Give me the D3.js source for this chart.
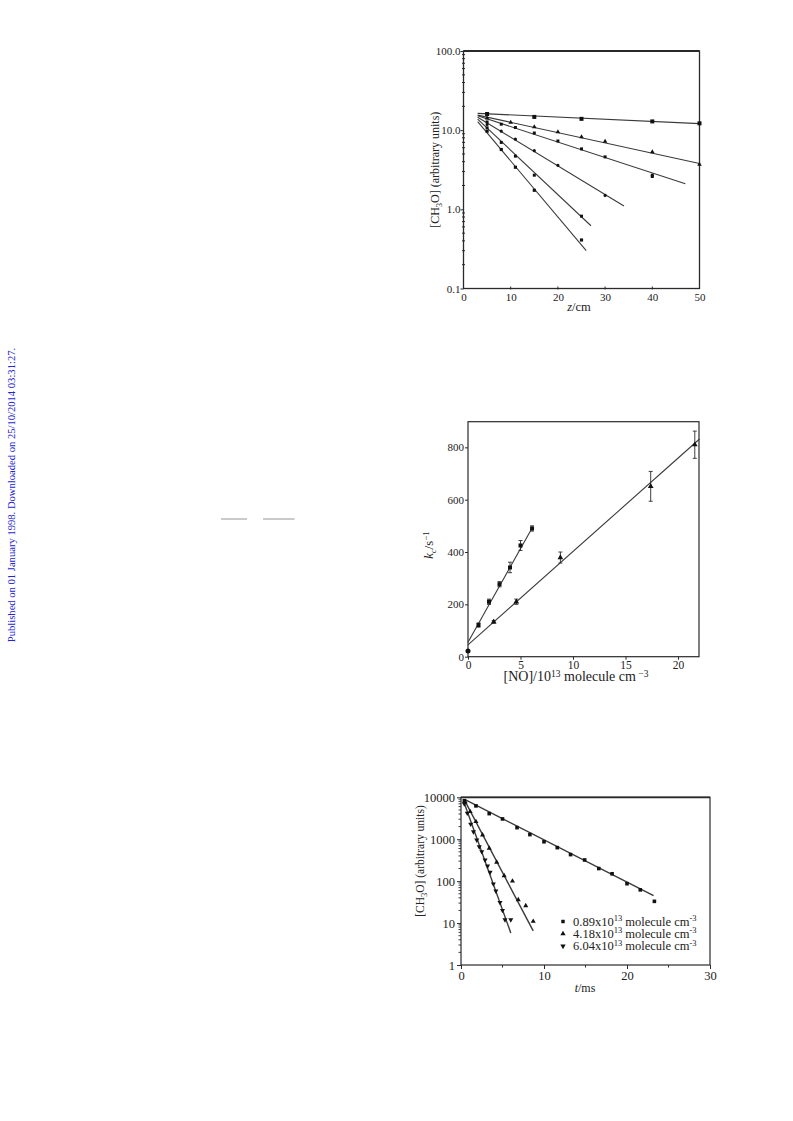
<!DOCTYPE html>
<html><head><meta charset="utf-8">
<script src="https://cdn.jsdelivr.net/npm/d3@7"></script>
<style>
body{margin:0;background:#fff;}
svg{display:block;}
text{font-family:"Liberation Serif","DejaVu Serif",serif;fill:#222;}
</style></head>
<body><svg id="s" width="793" height="1121"></svg>
<script>
// ---------- Chart 1 data: [CH3O] vs z ----------
const c1XTicks = [0,10,20,30,40,50];
const c1YTicks = [0.1,1,10,100];
const c1YLabels = ["0.1","1.0","10.0","100.0"];
const c1A_z = [5,15,25,40,50];           const c1A_v = [16,14.7,13.9,12.9,12.2];
const c1B_z = [5,10,15,20,25,30,40,50];  const c1B_v = [14.2,12.5,11.0,9.5,8.2,7.2,5.3,3.7];
const c1C_z = [5,8,11,15,20,25,30,40,40];const c1C_v = [12.7,11.9,10.8,9.2,7.3,5.8,4.6,2.7,2.6];
const c1D_z = [5,8,11,15,20,30];         const c1D_v = [11.8,9.7,7.7,5.5,3.6,1.5];
const c1E_z = [5,8,11,15,25];            const c1E_v = [10.7,7.0,4.7,2.7,0.82];
const c1F_z = [5,8,11,15,25];            const c1F_v = [9.7,5.7,3.4,1.74,0.41];
// fitted lines: [z0, v0, z1, v1]
const c1FitA = [3,16.3,50,12.1];
const c1FitB = [3,15.5,50,3.8];
const c1FitC = [3,15.2,47,2.1];
const c1FitD = [3,14.6,34,1.1];
const c1FitE = [3,13.8,27,0.62];
const c1FitF = [3,12.8,26,0.30];

// ---------- Chart 2 data: k_c vs [NO] ----------
const c2XTicks = [0,5,10,15,20];
const c2YTicks = [0,200,400,600,800];
const c2Zero_x = [0];  const c2Zero_y = [22];
const c2Sq_x = [1,2,3,4,5,6.1];           const c2Sq_y = [121,210,277,341,425,490]; const c2Sq_e = [8,10,10,20,19,10];
const c2Tri_x = [2.45,4.6,8.8,17.4,21.6]; const c2Tri_y = [133,210,379,651,810];    const c2Tri_e = [5,10,21,57,52];
const c2Fit1 = [0,55,6.15,495];
const c2Fit2 = [0,45,22.05,832];

// ---------- Chart 3 data: [CH3O] vs t ----------
const c3XTicks = [0,10,20,30];
const c3YTicks = [1,10,100,1000,10000];
const c3S1_t = [0.4,1.8,3.4,5.0,6.75,8.3,10.0,11.6,13.2,14.9,16.6,18.2,20.0,21.6,23.3];
const c3S1_v = [8300,6240,4080,3050,1890,1290,870,630,430,320,200,150,87,62,33];
const c3S2_t = [0.5,1.1,1.8,2.6,3.4,4.3,5.2,6.2,6.9,7.8,8.7];
const c3S2_v = [7800,4560,2640,1260,610,283,135,100,36,26,11];
const c3S3_t = [0.4,0.76,1.17,1.5,1.9,2.2,2.5,2.9,3.2,3.5,3.9,4.2,4.7,5.0,5.3,6.0];
const c3S3_v = [7000,4200,2290,1510,960,660,505,320,230,163,86,58,31,20,12,12];
const c3Fit1 = [0.5,8800,23.2,45];
const c3Fit2 = [0.5,8000,8.7,6.5];
const c3Fit3 = [0.4,7200,6.0,5.8];
const c3Legend = ["0.89x10", "4.18x10", "6.04x10"];

const svg = d3.select("#s");
const ink = "#2a2a2a";

function symbolPath(type, size){ return d3.symbol().type(type).size(size)(); }
const triDown = { draw(ctx, size){ const s=Math.sqrt(size/ (Math.sqrt(3)/4)); const h=s*Math.sqrt(3)/2;
  ctx.moveTo(0, h*2/3); ctx.lineTo(-s/2, -h/3); ctx.lineTo(s/2, -h/3); ctx.closePath(); } };
const triUp = { draw(ctx, size){ const s=Math.sqrt(size/ (Math.sqrt(3)/4)); const h=s*Math.sqrt(3)/2;
  ctx.moveTo(0, -h*2/3); ctx.lineTo(-s/2, h/3); ctx.lineTo(s/2, h/3); ctx.closePath(); } };

function frame(g, x0,y0,x1,y1, w){
  g.append("rect").attr("x",x0).attr("y",y0).attr("width",x1-x0).attr("height",y1-y0)
   .attr("fill","none").attr("stroke",ink).attr("stroke-width",w||1.2);
}
function drawFit(g, x, y, f, w){
  g.append("line").attr("x1",x(f[0])).attr("y1",y(f[1])).attr("x2",x(f[2])).attr("y2",y(f[3]))
   .attr("stroke","#3a3a3a").attr("stroke-width",w||1.1);
}
function drawPts(g, x, y, xs, vs, type, size){
  g.selectAll(null).data(xs.map((d,i)=>[d,vs[i]])).enter().append("path")
   .attr("d", symbolPath(type,size)).attr("transform",d=>`translate(${x(d[0])},${y(d[1])})`).attr("fill","#111");
}

// ================= Chart 1 =================
{
  const L=463.5, T=51, R=699.5, B=288.5;
  const x = d3.scaleLinear().domain([0,50]).range([L,R]);
  const y = d3.scaleLog().domain([0.1,100]).range([B,T]);
  const g = svg.append("g");
  frame(g,L,T,R,B,1.3);
  g.append("line").attr("x1",L).attr("x2",R).attr("y1",T).attr("y2",T).attr("stroke",ink).attr("stroke-width",1.8);
  const ya = d3.axisLeft(y).tickValues(c1YTicks).tickSize(3).tickFormat((d,i)=>c1YLabels[i]);
  const yg = g.append("g").attr("transform",`translate(${L},0)`).call(ya);
  yg.select(".domain").remove();
  yg.selectAll("text").style("font-size","11px").attr("x",-3);
  yg.selectAll("line").attr("stroke",ink);
  const minor = [];
  [0.1,1,10].forEach(d=>{ for(let k=2;k<=9;k++) minor.push(d*k); });
  g.selectAll(null).data(minor).enter().append("line")
   .attr("x1",L-1.5).attr("x2",L+1.5).attr("y1",d=>y(d)).attr("y2",d=>y(d)).attr("stroke",ink).attr("stroke-width",1);
  const xa = d3.axisBottom(x).tickValues(c1XTicks).tickSize(0).tickPadding(5);
  const xg = g.append("g").attr("transform",`translate(0,${B})`).call(xa);
  xg.select(".domain").remove();
  xg.selectAll("text").style("font-size","11px");
  g.selectAll(null).data(c1XTicks.slice(1,-1)).enter().append("line")
   .attr("x1",d=>x(d)).attr("x2",d=>x(d)).attr("y1",B-2).attr("y2",B+1).attr("stroke",ink);
  const yt = g.append("text").attr("transform",`translate(439,${(T+B)/2}) rotate(-90)`).attr("text-anchor","middle").style("font-size","12px");
  yt.append("tspan").text("[CH");
  yt.append("tspan").attr("dy",2.5).style("font-size","8.5px").text("3");
  yt.append("tspan").attr("dy",-2.5).text("O] (arbitrary units)");
  const xt = g.append("text").attr("x",579).attr("y",311).attr("text-anchor","middle").style("font-size","12.5px");
  xt.append("tspan").style("font-style","italic").text("z");
  xt.append("tspan").text("/cm");
  [c1FitA,c1FitB,c1FitC,c1FitD,c1FitE,c1FitF].forEach(f=>drawFit(g,x,y,f,1.1));
  drawPts(g,x,y,c1A_z,c1A_v,d3.symbolSquare,16);
  drawPts(g,x,y,c1B_z,c1B_v,triUp,9);
  drawPts(g,x,y,c1C_z,c1C_v,d3.symbolSquare,9);
  drawPts(g,x,y,c1D_z,c1D_v,d3.symbolCircle,8);
  drawPts(g,x,y,c1E_z,c1E_v,d3.symbolSquare,9);
  drawPts(g,x,y,c1F_z,c1F_v,d3.symbolSquare,10);
}

// ================= Chart 2 =================
{
  const L=468, T=421.7, R=699, B=656.7;
  const x = d3.scaleLinear().domain([0,22]).range([L,R]);
  const y = d3.scaleLinear().domain([0,898]).range([B,T]);
  const g = svg.append("g");
  frame(g,L,T,R,B,1.2);
  const yg = g.append("g").attr("transform",`translate(${L},0)`).call(d3.axisLeft(y).tickValues(c2YTicks).tickSize(3).tickPadding(1));
  yg.select(".domain").remove();
  yg.selectAll("text").style("font-size","11px");
  yg.selectAll("line").attr("stroke",ink);
  const xg = g.append("g").attr("transform",`translate(0,${B})`).call(d3.axisBottom(x).tickValues(c2XTicks).tickSize(3).tickPadding(1));
  xg.select(".domain").remove();
  xg.selectAll("text").style("font-size","11.5px");
  xg.selectAll("line").attr("stroke",ink);
  const yt = g.append("text").attr("transform",`translate(433,545) rotate(-90)`).attr("text-anchor","middle").style("font-size","12.5px");
  yt.append("tspan").style("font-style","italic").text("k");
  yt.append("tspan").attr("dy",2.5).style("font-size","9px").style("font-style","italic").text("c");
  yt.append("tspan").attr("dy",-2.5).text("/s");
  yt.append("tspan").attr("dy",-4.5).style("font-size","9px").text("−1");
  const xt = g.append("text").attr("x",576).attr("y",681).attr("text-anchor","middle").style("font-size","14px");
  xt.append("tspan").text("[NO]/10");
  xt.append("tspan").attr("dy",-4.5).style("font-size","9.5px").text("13");
  xt.append("tspan").attr("dy",4.5).text(" molecule cm");
  xt.append("tspan").attr("dy",-4.5).style("font-size","9.5px").text(" −3");
  drawFit(g,x,y,c2Fit1,1.1);
  drawFit(g,x,y,c2Fit2,1.1);
  function err(xs,ys,es){
    xs.forEach((d,i)=>{
      const cx=x(d), y0=y(ys[i]-es[i]), y1=y(ys[i]+es[i]);
      g.append("line").attr("x1",cx).attr("x2",cx).attr("y1",y0).attr("y2",y1).attr("stroke",ink).attr("stroke-width",0.9);
      [y0,y1].forEach(yy=>g.append("line").attr("x1",cx-2).attr("x2",cx+2).attr("y1",yy).attr("y2",yy).attr("stroke",ink).attr("stroke-width",0.9));
    });
  }
  err(c2Sq_x,c2Sq_y,c2Sq_e);
  err(c2Tri_x,c2Tri_y,c2Tri_e);
  drawPts(g,x,y,c2Sq_x,c2Sq_y,d3.symbolSquare,16);
  drawPts(g,x,y,c2Tri_x,c2Tri_y,triUp,14);
  drawPts(g,x,y,c2Zero_x,c2Zero_y,d3.symbolCircle,20);
}

// ================= Chart 3 =================
{
  const L=461, T=797.3, R=710, B=965;
  const x = d3.scaleLinear().domain([0,30]).range([L,R]);
  const y = d3.scaleLog().domain([1,10000]).range([B,T]);
  const g = svg.append("g");
  frame(g,L,T,R,B,1.2);
  g.append("line").attr("x1",L).attr("x2",R).attr("y1",T).attr("y2",T).attr("stroke",ink).attr("stroke-width",1.8);
  const yg = g.append("g").attr("transform",`translate(${L},0)`).call(d3.axisLeft(y).tickValues(c3YTicks).tickFormat(d3.format("d")).tickSize(4).tickPadding(2));
  yg.select(".domain").remove();
  yg.selectAll("text").style("font-size","12.5px");
  yg.selectAll("line").attr("stroke",ink);
  const minor=[];
  [1,10,100,1000].forEach(d=>{ for(let k=2;k<=9;k++) minor.push(d*k); });
  g.selectAll(null).data(minor).enter().append("line")
   .attr("x1",L-2.5).attr("x2",L).attr("y1",d=>y(d)).attr("y2",d=>y(d)).attr("stroke",ink).attr("stroke-width",0.9);
  const xg = g.append("g").attr("transform",`translate(0,${B})`).call(d3.axisBottom(x).tickValues(c3XTicks).tickSize(4).tickPadding(2));
  xg.select(".domain").remove();
  xg.selectAll("text").style("font-size","12.5px");
  xg.selectAll("line").attr("stroke",ink);
  g.selectAll(null).data([5,15,25]).enter().append("line")
   .attr("x1",d=>x(d)).attr("x2",d=>x(d)).attr("y1",B).attr("y2",B+2.5).attr("stroke",ink);
  const yt = g.append("text").attr("transform",`translate(424,861) rotate(-90)`).attr("text-anchor","middle").style("font-size","11.5px");
  yt.append("tspan").text("[CH");
  yt.append("tspan").attr("dy",2.5).style("font-size","8.5px").text("3");
  yt.append("tspan").attr("dy",-2.5).text("O] (arbitrary units)");
  const xt = g.append("text").attr("x",585).attr("y",992).attr("text-anchor","middle").style("font-size","12px");
  xt.append("tspan").style("font-style","italic").text("t");
  xt.append("tspan").text("/ms");
  drawFit(g,x,y,c3Fit1,1.4);
  drawFit(g,x,y,c3Fit2,1.4);
  drawFit(g,x,y,c3Fit3,1.4);
  drawPts(g,x,y,c3S1_t,c3S1_v,d3.symbolSquare,13);
  drawPts(g,x,y,c3S2_t,c3S2_v,triUp,11);
  drawPts(g,x,y,c3S3_t,c3S3_v,triDown,11);
  const types=[d3.symbolSquare,triUp,triDown];
  c3Legend.forEach((lab,i)=>{
    const yy = 921.5 + i*12.3;
    g.append("path").attr("d",symbolPath(types[i],12)).attr("transform",`translate(563,${yy})`).attr("fill","#111");
    const t = g.append("text").attr("x",573).attr("y",yy+4).style("font-size","12.5px");
    t.append("tspan").text(lab);
    t.append("tspan").attr("dy",-4.5).style("font-size","8.5px").text("13");
    t.append("tspan").attr("dy",4.5).text(" molecule cm");
    t.append("tspan").attr("dy",-4.5).style("font-size","8.5px").text("-3");
  });
}

// ---------- page decorations ----------
svg.append("text").attr("transform","translate(15,495) rotate(-90)").attr("text-anchor","middle")
  .style("font-size","10.6px").style("fill","#2424d0")
  .text("Published on 01 January 1998. Downloaded on 25/10/2014 03:31:27.");
svg.append("line").attr("x1",221).attr("x2",247).attr("y1",519).attr("y2",519).attr("stroke","#b4b4b4").attr("stroke-width",1.4);
svg.append("line").attr("x1",263).attr("x2",294.5).attr("y1",519).attr("y2",519).attr("stroke","#b4b4b4").attr("stroke-width",1.4);
</script></body></html>
